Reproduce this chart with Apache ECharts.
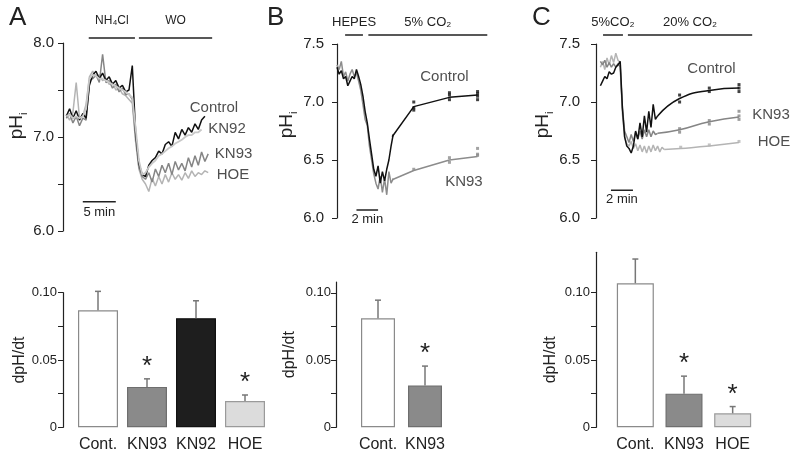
<!DOCTYPE html>
<html>
<head>
<meta charset="utf-8">
<script src="https://cdn.jsdelivr.net/npm/echarts@6/dist/echarts.min.js"></script>
<style>
    html, body { margin: 0; padding: 0; background: #fff; }
    #chart { width: 800px; height: 462px; }
</style>
</head>
<body>
<div id="chart"></div>
<script>
// ---- Panel A: NH4Cl prepulse, pHi sampled every 0.5 min from 0.5 min ----
const aStep = 0.5;
const aControl = [7.22, 7.30, 7.20, 7.28, 7.18, 7.25, 7.20, 7.55, 7.66, 7.70, 7.62, 7.68, 7.60, 7.64, 7.56, 7.60, 7.52, 7.55, 7.48, 7.50, 7.76, 7.05, 6.72, 6.60, 6.58, 6.70, 6.75, 6.78, 6.85, 6.82, 6.92, 6.95, 6.90, 7.05, 6.98, 7.08, 7.02, 7.10, 7.05, 7.14, 7.08, 7.18, 7.22];
const aKN92 = [7.22, 7.24, 7.20, 7.22, 7.20, 7.22, 7.30, 7.62, 7.66, 7.65, 7.62, 7.62, 7.60, 7.58, 7.56, 7.54, 7.52, 7.50, 7.48, 7.45, 7.42, 7.10, 6.75, 6.60, 6.62, 6.68, 6.72, 6.75, 6.80, 6.82, 6.85, 6.88, 6.90, 6.93, 6.95, 6.97, 7.00, 7.02, 7.02, 7.05, 7.05, 7.08];
const aKN93 = [7.20, 7.25, 7.15, 7.22, 7.12, 7.20, 7.18, 7.60, 7.62, 7.66, 7.58, 7.88, 7.58, 7.60, 7.52, 7.56, 7.48, 7.52, 7.45, 7.46, 7.40, 7.00, 6.68, 6.58, 6.55, 6.62, 6.52, 6.66, 6.58, 6.70, 6.62, 6.72, 6.60, 6.74, 6.65, 6.72, 6.64, 6.78, 6.68, 6.80, 6.70, 6.84, 6.74, 6.82];
const aHOE = [7.24, 7.18, 7.26, 7.58, 7.20, 7.22, 7.35, 7.64, 7.70, 7.64, 7.66, 7.60, 7.62, 7.56, 7.58, 7.50, 7.52, 7.46, 7.44, 7.40, 7.36, 6.95, 6.66, 6.55, 6.50, 6.42, 6.56, 6.48, 6.58, 6.50, 6.60, 6.52, 6.62, 6.55, 6.60, 6.54, 6.62, 6.56, 6.64, 6.58, 6.62, 6.60, 6.64, 6.62];

// ---- Panel B: HEPES -> 5% CO2, traces every 0.2 min from 0 ----
const bStep = 0.2;
const bControl = [7.30, 7.24, 7.27, 7.20, 7.22, 7.14, 7.18, 7.22, 7.20, 7.28, 7.22, 7.15, 7.05, 6.92, 6.82, 6.68, 6.55, 6.42, 6.36, 6.45, 6.30, 6.40, 6.32, 6.42, 6.50, 6.62, 6.72];
const bKN93 = [7.32, 7.28, 7.35, 7.22, 7.26, 7.18, 7.24, 7.28, 7.22, 7.25, 7.18, 7.10, 6.98, 6.85, 6.80, 6.62, 6.50, 6.38, 6.30, 6.25, 6.36, 6.22, 6.34, 6.20, 6.40, 6.30, 6.34];
const bFitTimes = [5.1, 7.1, 10.4, 13.0];
const bControlFit = [6.70, 6.96, 7.04, 7.06];
const bKN93Fit = [6.33, 6.41, 6.50, 6.53];
const bControlPts = [[7.1, 7.00], [7.1, 6.95], [7.1, 6.93], [10.4, 7.08], [10.4, 7.06], [10.4, 7.02], [13.0, 7.09], [13.0, 7.07], [13.0, 7.05], [13.0, 7.02]];
const bKN93Pts = [[7.1, 6.42], [10.4, 6.52], [10.4, 6.48], [13.0, 6.60], [13.0, 6.55], [13.0, 6.54]];

// ---- Panel C: 5% -> 20% CO2, traces every 0.2 min from 0.4 ----
const cStep = 0.2;
const cControl = [7.14, 7.18, 7.22, 7.20, 7.26, 7.24, 7.25, 7.30, 7.32, 7.35, 6.95, 6.70, 6.62, 6.60, 6.56, 6.62, 6.75, 6.68, 6.82, 6.70, 6.88, 6.74, 6.92, 6.78, 6.98, 6.85, 6.88];
const cKN93 = [7.35, 7.32, 7.36, 7.30, 7.34, 7.30, 7.33, 7.30, 7.33, 7.30, 6.95, 6.75, 6.70, 6.65, 6.72, 6.66, 6.74, 6.68, 6.75, 6.68, 6.76, 6.70, 6.76, 6.70, 6.75, 6.72, 6.73];
const cHOE = [7.30, 7.35, 7.28, 7.38, 7.32, 7.40, 7.34, 7.42, 7.36, 7.34, 6.90, 6.70, 6.64, 6.62, 6.66, 6.60, 6.64, 6.58, 6.63, 6.57, 6.62, 6.56, 6.62, 6.57, 6.63, 6.58, 6.62, 6.57, 6.61, 6.59];
const cControlFit = [[5.6, 6.88], [7.6, 7.03], [10.3, 7.10], [13.0, 7.12]];
const cKN93Fit = [[5.6, 6.73], [7.6, 6.76], [10.3, 6.83], [13.0, 6.87]];
const cHOEFit = [[6.2, 6.59], [7.7, 6.60], [10.3, 6.62], [13.0, 6.65]];
const cControlPts = [[7.6, 7.06], [7.6, 7.00], [10.3, 7.12], [10.3, 7.09], [13.0, 7.15], [13.0, 7.12], [13.0, 7.09]];
const cKN93Pts = [[7.6, 6.77], [7.6, 6.74], [10.3, 6.84], [10.3, 6.81], [13.0, 6.92], [13.0, 6.88], [13.0, 6.85]];
const cHOEPts = [[7.7, 6.61], [10.3, 6.63], [13.0, 6.66]];

// ---- Bar panels: dpH/dt (mean, SEM) ----
const aCats = ['Cont.', 'KN93', 'KN92', 'HOE'];
const aRates = [0.087, 0.030, 0.081, 0.0195];
const aErrs = [0.014, 0.006, 0.013, 0.0045];
const aSig = [false, true, false, true];
const bCats = ['Cont.', 'KN93'];
const bRates = [0.081, 0.031];
const bErrs = [0.0135, 0.0145];
const bSig = [false, true];
const cCats = ['Cont.', 'KN93', 'HOE'];
const cRates = [0.107, 0.025, 0.0104];
const cErrs = [0.018, 0.013, 0.005];
const cSig = [false, true, true];

const FONT = '"Liberation Sans", Arial, Helvetica, sans-serif';
const INK = '#222';
const fills = { 'Cont.': '#ffffff', 'KN93': '#8a8a8a', 'KN92': '#1e1e1e', 'HOE': '#dcdcdc' };
const borders = { 'Cont.': '#8a8a8a', 'KN93': '#6e6e6e', 'KN92': '#111', 'HOE': '#9a9a9a' };

const chart = echarts.init(document.getElementById('chart'));

function timed(arr, t0, step) {
    return arr.map((v, i) => [t0 + i * step, v]);
}

function trace(idx, data, color, width, z) {
    return {
        type: 'line', xAxisIndex: idx, yAxisIndex: idx, data: data,
        showSymbol: false, lineStyle: { color: color, width: width || 1.3 }, z: z || 2
    };
}

function dots(idx, data, color) {
    return {
        type: 'scatter', xAxisIndex: idx, yAxisIndex: idx, data: data,
        symbol: 'rect', symbolSize: 3, itemStyle: { color: color }, z: 4
    };
}

// solution bars and scale bars drawn in data units, label on the middle point
function bar(idx, t1, t2, y, text, dist, fontSize, below) {
    return {
        type: 'line', xAxisIndex: idx, yAxisIndex: idx, clip: false,
        symbolSize: 0, showSymbol: true,
        lineStyle: { color: INK, width: 1.5 },
        data: [
            [t1, y],
            { value: [(t1 + t2) / 2, y], label: { show: true, formatter: text, position: below ? 'bottom' : 'top', distance: dist, fontSize: fontSize, color: INK } },
            [t2, y]
        ],
        z: 5
    };
}

function tags(idx, items) {
    return {
        type: 'scatter', xAxisIndex: idx, yAxisIndex: idx, clip: false, symbolSize: 0,
        data: items.map(it => ({ value: [it[0], it[1]], label: { show: true, formatter: it[2], position: 'right', distance: 0, fontSize: 15, color: INK } })),
        z: 6
    };
}

function phAxis(idx, min, max, labelAll, margin, namePad) {
    return {
        gridIndex: idx, type: 'value', min: min, max: max, interval: 0.5,
        axisLine: { show: true, lineStyle: { color: INK, width: 1.2 } },
        axisTick: { show: true, length: 5, lineStyle: { color: INK } },
        splitLine: { show: false },
        axisLabel: {
            fontSize: 15, color: INK, margin: margin,
            formatter: v => (labelAll || Math.abs(v - Math.round(v)) < 1e-6) ? v.toFixed(1) : ''
        },
        name: '{m|pH}{s|i}', nameLocation: 'middle', nameRotate: 90, nameGap: 34,
        nameTextStyle: {
            padding: namePad,
            rich: {
                m: { fontSize: 19, color: INK, lineHeight: 24 },
                s: { fontSize: 11, color: INK, lineHeight: 12, verticalAlign: 'bottom' }
            }
        }
    };
}

function rateAxis(idx, max, offset, margin, nameGap, namePad) {
    return {
        gridIndex: idx, type: 'value', min: 0, max: max, offset: offset,
        axisLine: { show: true, lineStyle: { color: INK, width: 1.2 } },
        axisTick: { show: true, length: 5, lineStyle: { color: INK }, customValues: [0, 0.025, 0.05, 0.075, 0.1] },
        splitLine: { show: false },
        axisLabel: {
            fontSize: 13, color: INK, margin: margin, customValues: [0, 0.05, 0.1],
            formatter: v => v === 0 ? '0' : v.toFixed(2)
        },
        name: 'dpH/dt', nameLocation: 'middle', nameRotate: 90, nameGap: nameGap,
        nameTextStyle: { fontSize: 16, color: INK, padding: namePad }
    };
}

function catAxis(idx, cats) {
    return {
        gridIndex: idx, type: 'category', data: cats,
        axisLine: { show: false }, axisTick: { show: false },
        axisLabel: { fontSize: 16, color: INK, margin: 9, interval: 0 }
    };
}

function bars(idx, cats, rates, width) {
    return {
        type: 'bar', xAxisIndex: idx, yAxisIndex: idx, barWidth: width,
        data: cats.map((c, i) => ({ value: rates[i], itemStyle: { color: fills[c], borderColor: borders[c], borderWidth: 1.2 } })),
        z: 2
    };
}

function errors(idx, cats, rates, errs, sig) {
    return {
        type: 'custom', xAxisIndex: idx, yAxisIndex: idx, z: 3,
        data: cats.map((c, i) => [i, rates[i], rates[i] + errs[i], sig[i] ? 1 : 0]),
        renderItem: function(params, api) {
            const base = api.coord([api.value(0), api.value(1)]);
            const top = api.coord([api.value(0), api.value(2)]);
            const st = { stroke: '#777', lineWidth: 1.5 };
            const children = [
                { type: 'line', shape: { x1: base[0], y1: base[1], x2: top[0], y2: top[1] }, style: st },
                { type: 'line', shape: { x1: top[0] - 3, y1: top[1], x2: top[0] + 3, y2: top[1] }, style: st }
            ];
            if (api.value(3)) {
                children.push({ type: 'text', x: top[0], y: top[1] + 1, style: { text: '*', fontSize: 26, fontFamily: FONT, fill: INK, align: 'center', verticalAlign: 'bottom' } });
            }
            return { type: 'group', children: children };
        }
    };
}

const option = {
    animation: false,
    backgroundColor: '#fff',
    textStyle: { fontFamily: FONT },
    title: [
        { text: 'A', left: 4, top: 0, textStyle: { fontSize: 26, fontWeight: 'normal', color: INK } },
        { text: 'B', left: 262, top: 0, textStyle: { fontSize: 26, fontWeight: 'normal', color: INK } },
        { text: 'C', left: 527, top: 0, textStyle: { fontSize: 26, fontWeight: 'normal', color: INK } }
    ],
    grid: [
        { left: 63, top: 43, width: 198, height: 188 },
        { left: 337, top: 44, width: 173, height: 174 },
        { left: 596, top: 44, width: 176, height: 174 },
        { left: 73.5, top: 292.7, width: 196, height: 134.6 },
        { left: 354.5, top: 282, width: 94, height: 145.3 },
        { left: 611, top: 252.3, width: 146, height: 175 }
    ],
    xAxis: [
        { gridIndex: 0, type: 'value', min: 0, max: 30, show: false },
        { gridIndex: 1, type: 'value', min: 0, max: 16, show: false },
        { gridIndex: 2, type: 'value', min: 0, max: 16, show: false },
        catAxis(3, aCats),
        catAxis(4, bCats),
        catAxis(5, cCats)
    ],
    yAxis: [
        phAxis(0, 6, 8, false, 9, [0, 0, 0, 22]),
        phAxis(1, 6, 7.5, true, 13, [0, 0, 0, 12]),
        phAxis(2, 6, 7.5, true, 16, [0, 0, 0, 12]),
        rateAxis(3, 0.1, 10.5, 6, 35, 0),
        rateAxis(4, 0.108, 18.5, 5, 38, 0),
        rateAxis(5, 0.13, 15, 6, 37, [0, 40, 0, 0])
    ],
    series: [
        // A traces
        trace(0, timed(aHOE, 0.5, aStep), '#b4b4b4', 1.5),
        trace(0, timed(aKN93, 0.5, aStep), '#858585', 1.5),
        trace(0, timed(aControl, 0.5, aStep), '#111', 1.5),
        trace(0, timed(aKN92, 0.5, aStep), '#c8c8c8', 1.8, 3),
        bar(0, 3.9, 10.9, 8.053, 'NH₄Cl', 11, 12),
        bar(0, 11.5, 22.6, 8.053, 'WO', 11, 12),
        bar(0, 3.0, 8.0, 6.31, '5 min', 4, 13, true),
        tags(0, [[19.2, 7.31, 'Control'], [22.0, 7.085, 'KN92'], [23.0, 6.82, 'KN93'], [23.3, 6.6, 'HOE']]),
        // B traces
        trace(1, timed(bKN93, 0, bStep), '#8c8c8c', 1.5),
        trace(1, timed(bControl, 0, bStep), '#111', 1.5),
        trace(1, bFitTimes.map((t, i) => [t, bControlFit[i]]), '#111', 1.5, 3),
        trace(1, bFitTimes.map((t, i) => [t, bKN93Fit[i]]), '#8c8c8c', 1.5, 3),
        dots(1, bControlPts, '#111'),
        dots(1, bKN93Pts, '#8c8c8c'),
        bar(1, 0.75, 2.4, 7.578, 'HEPES', 6, 13),
        bar(1, 2.9, 13.9, 7.578, '5% CO₂', 6, 13),
        bar(1, 1.8, 3.8, 6.07, '2 min', 3, 13, true),
        tags(1, [[7.7, 7.22, 'Control'], [10.0, 6.31, 'KN93']]),
        // C traces
        trace(2, timed(cHOE, 0.4, cStep), '#b4b4b4', 1.5),
        trace(2, timed(cKN93, 0.4, cStep), '#858585', 1.5),
        trace(2, timed(cControl, 0.4, cStep), '#111', 1.5),
        Object.assign(trace(2, cControlFit, '#111', 1.5, 3), { smooth: true }),
        Object.assign(trace(2, cKN93Fit, '#858585', 1.5, 3), { smooth: true }),
        Object.assign(trace(2, cHOEFit, '#b4b4b4', 1.5, 3), { smooth: true }),
        dots(2, cControlPts, '#111'),
        dots(2, cKN93Pts, '#858585'),
        dots(2, cHOEPts, '#b4b4b4'),
        bar(2, 0.64, 2.45, 7.578, '5%CO₂', 6, 13),
        bar(2, 2.9, 14.2, 7.578, '20% CO₂', 6, 13),
        bar(2, 1.36, 3.36, 6.24, '2 min', 3, 13, true),
        tags(2, [[8.3, 7.29, 'Control'], [14.2, 6.89, 'KN93'], [14.7, 6.66, 'HOE']]),
        // bar panels
        bars(3, aCats, aRates, 40),
        errors(3, aCats, aRates, aErrs, aSig),
        bars(4, bCats, bRates, 34),
        errors(4, bCats, bRates, bErrs, bSig),
        bars(5, cCats, cRates, 37),
        errors(5, cCats, cRates, cErrs, cSig)
    ]
};

chart.setOption(option);
</script>
</body>
</html>
